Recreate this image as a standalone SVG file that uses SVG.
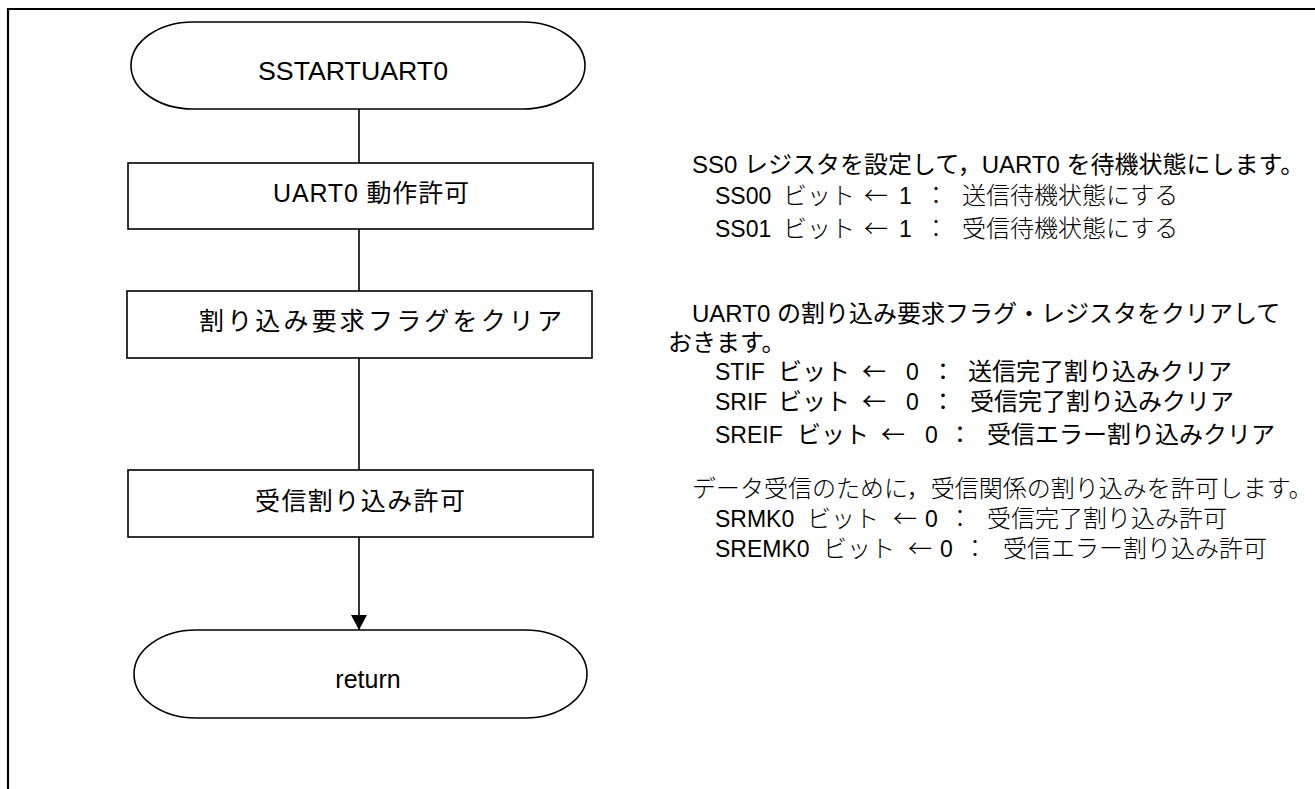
<svg xmlns="http://www.w3.org/2000/svg" width="1315" height="789" viewBox="0 0 1315 789">
<defs>
<style>
.frame{fill:none;stroke:#000;stroke-width:2.2}
.shape{fill:#fff;stroke:#000;stroke-width:1.6}
.conn{fill:none;stroke:#000;stroke-width:1.6}
.lbl{font-family:"Liberation Sans","Noto Sans CJK JP",sans-serif;font-size:25px;fill:#000}
.t{font-family:"Liberation Sans","Noto Sans CJK JP",sans-serif;font-size:24px;fill:#000}
.l{font-size:23px}
.m{font-family:"Noto Sans CJK JP",sans-serif;font-weight:300}
.a{font-family:"Noto Sans CJK JP",sans-serif}
</style>
<marker id="arr" viewBox="0 0 15 16" refX="15" refY="8" markerWidth="15" markerHeight="16" markerUnits="userSpaceOnUse" orient="auto">
<path d="M0,0 L15,8 L0,16 Z" fill="#000"/>
</marker>
</defs>
<rect width="1315" height="789" fill="#fff"/>
<path class="frame" d="M8,789 V9 H1315"/>

<g id="connectors">
<line class="conn" x1="359" y1="109" x2="359" y2="163"/>
<line class="conn" x1="359" y1="229" x2="359" y2="291"/>
<line class="conn" x1="359" y1="358" x2="359" y2="470"/>
<line class="conn" x1="359" y1="537" x2="359" y2="630" marker-end="url(#arr)"/>
</g>

<g id="start">
<path class="shape" d="M193,22 H523 A62,43.5 0 0 1 523,109 H193 A62,43.5 0 0 1 193,22 Z"/>
<text class="lbl" x="353" y="80" text-anchor="middle" textLength="190" lengthAdjust="spacingAndGlyphs">SSTARTUART0</text>
</g>

<g id="uart-enable">
<rect class="shape" x="128" y="163" width="465" height="66"/>
<text class="lbl" x="273" y="202" textLength="196" lengthAdjust="spacing">UART0 動作許可</text>
</g>

<g id="clear-flags">
<rect class="shape" x="127" y="291" width="465" height="67"/>
<text class="lbl" x="199" y="330" textLength="363" lengthAdjust="spacing">割り込み要求フラグをクリア</text>
</g>

<g id="rx-int-enable">
<rect class="shape" x="128" y="470" width="465" height="67"/>
<text class="lbl" x="255" y="510" textLength="210" lengthAdjust="spacing">受信割り込み許可</text>
</g>

<g id="return">
<path class="shape" d="M196,630 H525 A62,44 0 0 1 525,718 H196 A62,44 0 0 1 196,630 Z"/>
<text class="lbl" x="368" y="688" text-anchor="middle">return</text>
</g>

<g id="note-ss0">
<text class="t" x="692" y="173">SS0 レジスタを設定して，UART0 を待機状態にします。</text>
<text class="t" y="204"><tspan class="l" x="715">SS00</tspan><tspan class="m" x="783">ビット</tspan><tspan class="m" x="864">←</tspan><tspan class="l" x="899">1</tspan><tspan class="m" x="924">：</tspan><tspan class="m" x="962">送信待機状態にする</tspan></text>
<text class="t" y="237"><tspan class="l" x="715">SS01</tspan><tspan class="m" x="783">ビット</tspan><tspan class="m" x="864">←</tspan><tspan class="l" x="899">1</tspan><tspan class="m" x="924">：</tspan><tspan class="m" x="962">受信待機状態にする</tspan></text>
</g>

<g id="note-flags">
<text class="t" x="692" y="322">UART0 の割り込み要求フラグ・レジスタをクリアして</text>
<text class="t" x="668" y="351">おきます。</text>
<text class="t" y="380"><tspan class="l" x="715">STIF</tspan><tspan x="778">ビット</tspan><tspan class="a" x="862">←</tspan><tspan class="l" x="906">0</tspan><tspan x="931">：</tspan><tspan x="968">送信完了割り込みクリア</tspan></text>
<text class="t" y="410"><tspan class="l" x="715">SRIF</tspan><tspan x="778">ビット</tspan><tspan class="a" x="862">←</tspan><tspan class="l" x="906">0</tspan><tspan x="931">：</tspan><tspan x="970">受信完了割り込みクリア</tspan></text>
<text class="t" y="443"><tspan class="l" x="715">SREIF</tspan><tspan x="797">ビット</tspan><tspan class="a" x="881">←</tspan><tspan class="l" x="925">0</tspan><tspan x="948">：</tspan><tspan x="987">受信エラー割り込みクリア</tspan></text>
</g>

<g id="note-rx">
<text class="t m" x="692" y="497">データ受信のために，受信関係の割り込みを許可します。</text>
<text class="t" y="527"><tspan class="l" x="715">SRMK0</tspan><tspan class="m" x="807">ビット</tspan><tspan class="m" x="893">←</tspan><tspan class="l" x="925">0</tspan><tspan class="m" x="948">：</tspan><tspan class="m" x="987">受信完了割り込み許可</tspan></text>
<text class="t" y="557"><tspan class="l" x="715">SREMK0</tspan><tspan class="m" x="823">ビット</tspan><tspan class="m" x="908">←</tspan><tspan class="l" x="940">0</tspan><tspan class="m" x="963">：</tspan><tspan class="m" x="1003">受信エラー割り込み許可</tspan></text>
</g>
</svg>
